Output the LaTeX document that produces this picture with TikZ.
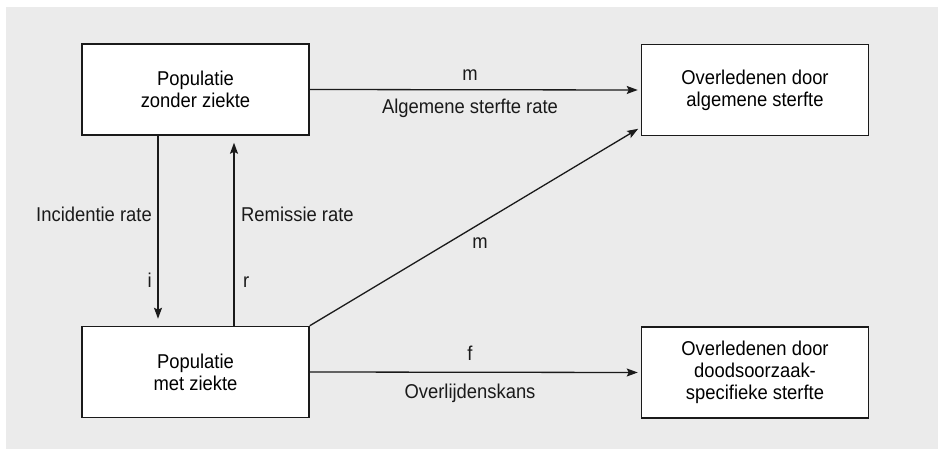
\documentclass[tikz,border=0pt]{standalone}
\usepackage{fontspec}
\setmainfont{Liberation Sans}[FakeStretch=0.92]
\usetikzlibrary{arrows.meta}
\definecolor{panel}{HTML}{EBEBEB}
\definecolor{ink}{HTML}{1A1A1A}
\tikzset{
  box/.style={draw=ink, line width=1.5pt, fill=white, minimum width=227pt,
    minimum height=91pt, align=center, inner sep=0pt},
  arr/.style={draw=ink, line width=1.3pt,
    -{Stealth[length=11pt,width=8pt,inset=2pt]}},
  lbl/.style={inner sep=0pt, text=ink}
}
\begin{document}
\begin{tikzpicture}[x=1pt,y=-1pt,font=\fontsize{20}{22}\selectfont]
\useasboundingbox (0,0) rectangle (938,449);
\fill[panel] (6,7) rectangle (938,449);

% states
\node[box] (gezond) at (195.5,89.5) {Populatie\\zonder ziekte};
\node[box] (ziek) at (195.5,372) {Populatie\\met ziekte};
\node[box] (algdood) at (755,90) {Overledenen door\\algemene sterfte};
\node[box] (specdood) at (755,372.5) {Overledenen door\\doodsoorzaak-\\specifieke sterfte};

% transitions
\draw[arr, shorten >=7pt] ([xshift=-37.5pt]gezond.south) -- ([xshift=-37.5pt]ziek.north);
\draw[arr, shorten >=7pt] ([xshift=38.5pt]ziek.north) -- ([xshift=38.5pt]gezond.south);
\draw[arr, shorten >=3pt] (gezond.east) -- (algdood.west);
\draw[arr, shorten >=3pt] (ziek.north east) -- ([yshift=9pt]algdood.south west);
\draw[arr, shorten >=3pt] (ziek.east) -- (specdood.west);

% rates
\node[lbl, anchor=base] (m1) at (470,81) {m};
\node[lbl, anchor=base] (algrate) at (470,114) {Algemene sterfte rate};
\node[lbl, anchor=base east] (inc) at (152,222) {Incidentie rate};
\node[lbl, anchor=base east] (i) at (152,288) {i};
\node[lbl, anchor=base west] (rem) at (241,222) {Remissie rate};
\node[lbl, anchor=base west] (r) at (243,288) {r};
\node[lbl, anchor=base] (m2) at (480,249) {m};
\node[lbl, anchor=base] (f) at (470,360) {f};
\node[lbl, anchor=base] (overl) at (470,398) {Overlijdenskans};
\end{tikzpicture}
\end{document}
